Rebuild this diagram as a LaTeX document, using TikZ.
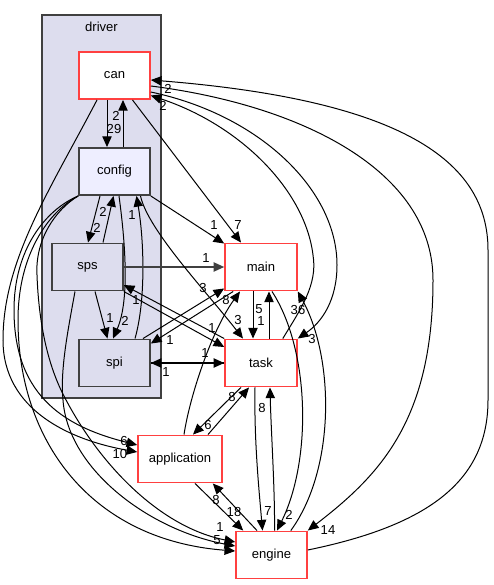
\documentclass[tikz,border=0pt]{standalone}
\usepackage{fontspec}
\setmainfont{Liberation Sans}
\usetikzlibrary{arrows.meta,calc}
\definecolor{clfill}{HTML}{DDDDEE}
\definecolor{cfgfill}{HTML}{EEEEFF}
\definecolor{redb}{HTML}{FF4040}
\definecolor{grayb}{HTML}{404040}
\tikzset{
  box/.style={rectangle, minimum width=53.25pt, minimum height=35.5pt, inner sep=0pt, line width=1.2pt, font=\fontsize{9.8}{11}\selectfont},
  redbox/.style={box, draw=redb, fill=white},
  dirbox/.style={box, draw=grayb, fill=clfill},
  cfgbox/.style={box, draw=grayb, fill=cfgfill},
  e/.style={draw=black, line width=0.75pt, -{Triangle[length=8pt,width=7pt]}},
  lab/.style={font=\fontsize{9.8}{11}\selectfont, inner sep=0pt},
}
\begin{document}
\begin{tikzpicture}[x=0.75pt,y=-0.75pt]
\useasboundingbox (0,0) rectangle (493,585);
\fill[white] (0,0) rectangle (493,585);
% cluster
\node[draw=grayb, fill=clfill, line width=0.8pt, minimum width=89.25pt, minimum height=287.25pt, inner sep=0pt] (driver) at (101.5,206.5) {};
\node[font=\fontsize{9.8}{11}\selectfont, inner sep=0pt] (driverlabel) at (101.5,27) {driver};
% nodes
\node[redbox] (can) at (114.5,75.5) {can};
\node[cfgbox] (config) at (114.5,171.5) {config};
\node[dirbox] (sps) at (87.5,267) {sps};
\node[dirbox] (spi) at (114.5,363) {spi};
\node[redbox, minimum width=54pt] (main) at (261,267) {main};
\node[redbox, minimum width=54pt] (task) at (261,363) {task};
\node[redbox, minimum width=63pt] (application) at (180,459) {application};
\node[redbox] (engine) at (271.5,555) {engine};
% edge labels
\node[lab] (l01) at (116,116) {2};
\node[lab] (l02) at (114,129) {29};
\node[lab] (l03) at (168,89) {2};
\node[lab] (l04) at (163,106) {2};
\node[lab] (l05) at (214,225) {1};
\node[lab] (l06) at (238,225) {7};
\node[lab] (l07) at (97,228) {2};
\node[lab] (l08) at (103,212) {2};
\node[lab] (l09) at (132,215) {1};
\node[lab] (l10) at (206,258) {1};
\node[lab] (l11) at (203,288) {3};
\node[lab] (l12) at (226,300) {8};
\node[lab] (l13) at (259,309) {5};
\node[lab] (l14) at (261,321) {1};
\node[lab] (l15) at (298,310) {36};
\node[lab] (l16) at (238,320) {3};
\node[lab] (l17) at (312,339) {3};
\node[lab] (l18) at (110,318) {1};
\node[lab] (l19) at (125,321) {2};
\node[lab] (l20) at (136,300) {1};
\node[lab] (l21) at (212,328) {1};
\node[lab] (l22) at (170,340) {1};
\node[lab] (l23) at (205,353) {1};
\node[lab] (l24) at (166,372) {1};
\node[lab] (l25) at (232,397) {8};
\node[lab] (l26) at (262,408) {8};
\node[lab] (l27) at (208,425) {6};
\node[lab] (l28) at (124,441) {6};
\node[lab] (l29) at (120,454) {10};
\node[lab] (l30) at (216,500) {8};
\node[lab] (l31) at (234,512) {18};
\node[lab] (l32) at (268,511) {7};
\node[lab] (l33) at (289,515) {2};
\node[lab] (l34) at (328,530) {14};
\node[lab] (l35) at (220,527) {1};
\node[lab] (l36) at (217,540) {5};
% driver internal edges
\draw[e] ($(can.south)+(-7.5,0)$) -- ($(config.north)+(-7.5,0)$);
\draw[e] ($(config.north)+(8.5,0)$) -- ($(can.south)+(8.5,0)$);
\draw[e] ($(config.south)+(-14.5,0)$) -- ($(sps.north)+(0.5,0)$);
\draw[e] ($(sps.north)+(15.5,0)$) -- ($(config.south)+(-1,0)$);
\draw[e] ($(sps.south)+(7.5,0)$) -- ($(spi.north)+(-7,0)$);
\draw[e] ($(config.south)+(4.5,0)$) .. controls (125,240) and (130,300) .. ($(spi.north)+(-1.5,0)$);
\draw[e] ($(spi.north)+(20.5,0)$) .. controls (146,300) and (144,240) .. ($(config.south)+(22,0)$);
% to main
\draw[e] ($(can.south)+(18,0)$) -- ($(main.north)+(-20,0)$);
\draw[e] (config.south east) -- ($(main.north west)+(0,1)$);
\draw[e, draw=grayb, line width=1.1pt] (sps.east) -- (main.west);
\draw[e] ($(spi.north)+(28.5,0)$) -- ($(main.south west)+(0,-3)$);
\draw[e] ($(main.south west)+(9,0)$) -- ($(spi.north east)+(0,5)$);
% config -> task
\draw[e] ($(config.south)+(26,0)$) .. controls (148,230) and (205,290) .. ($(task.north)+(-18,0)$);
% sps <-> task
\draw[e] (sps.south east) -- ($(task.west)+(0,-16)$);
\draw[e] (task.north west) -- ($(sps.east)+(0,18)$);
% spi <-> task
\draw[e, line width=1.1pt] (spi.east) -- (task.west);
\draw[e, line width=1.1pt] (task.west) -- (spi.east);
% main <-> task
\draw[e] ($(main.south)+(-8,0)$) -- ($(task.north)+(-8,0)$);
\draw[e] ($(task.north)+(8,0)$) -- ($(main.south)+(8,0)$);
% application
\draw[e] ($(application.north)+(4,0)$) .. controls (190,395) and (212,330) .. ($(main.south)+(-21,0)$);
\draw[e] ($(task.south)+(-20,0)$) -- ($(application.north)+(13,0)$);
\draw[e] ($(application.north)+(28,0)$) -- ($(task.south)+(-12,0)$);
\draw[e] ($(application.south)+(15,0)$) -- ($(engine.north west)+(8,0)$);
\draw[e] ($(engine.north)+(-14.5,0)$) -- ($(application.south east)+(-10,0)$);
% task/main - engine
\draw[e] ($(task.south)+(-6,0)$) .. controls (254,440) and (259,490) .. ($(engine.north)+(-9,0)$);
\draw[e] ($(engine.north)+(3,0)$) .. controls (275,490) and (271,430) .. ($(task.south)+(9,0)$);
\draw[e] ($(main.south)+(11,0)$) .. controls (310,350) and (312,460) .. ($(engine.north)+(5.5,0)$);
\draw[e] ($(engine.north east)+(-17,0)$) .. controls (335,470) and (335,360) .. (main.south east);
% right side big curves
\draw[e] ($(can.east)+(0,16.5)$) .. controls (260,115) and (337,190) .. (337,265) .. controls (337,300) and (322,322) .. (task.north east);
\draw[e] ($(task.north east)+(-15,0)$) .. controls (300,310) and (318,285) .. (313,255) .. controls (305,190) and (240,125) .. ($(can.east)+(0,20)$);
\draw[e] ($(can.east)+(0,10.5)$) .. controls (300,105) and (433,170) .. (433,280) .. controls (433,420) and (380,475) .. (engine.north east);
\draw[e] ($(engine.east)+(0,-5)$) .. controls (430,525) and (488,480) .. (488,400) -- (488,250) .. controls (488,160) and (400,100) .. ($(can.east)+(0,4.5)$);
% left curves
\draw[e] ($(can.south)+(-17.5,0)$) .. controls (50,190) and (3,260) .. (3,340) .. controls (3,410) and (70,440) .. ($(application.west)+(0,-7)$);
\draw[e] (config.south west) .. controls (45,210) and (14,250) .. (14,310) .. controls (14,400) and (70,428) .. ($(application.west)+(0,-14)$);
\draw[e] (config.south west) .. controls (48,212) and (18,255) .. (18,320) .. controls (18,440) and (90,540) .. ($(engine.west)+(0,-4)$);
\draw[e] (config.south west) .. controls (55,210) and (35,240) .. (37,275) .. controls (39,330) and (50,370) .. (65,398) .. controls (100,465) and (160,527) .. ($(engine.west)+(0,-13)$);
\draw[e] ($(sps.south)+(-12.5,0)$) .. controls (68,330) and (60,370) .. (63,400) .. controls (68,470) and (150,530) .. ($(engine.west)+(0,-9)$);
\end{tikzpicture}
\end{document}
